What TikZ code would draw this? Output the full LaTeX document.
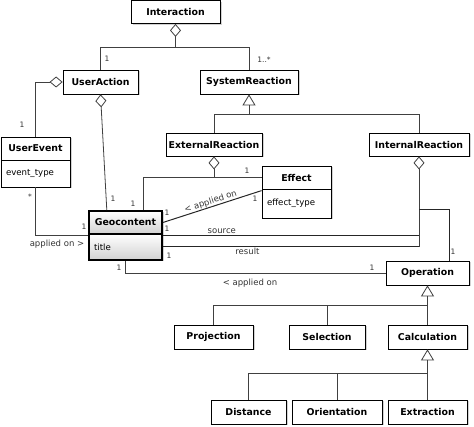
\documentclass[tikz,border=0pt]{standalone}
\usepackage{fontspec}
\setmainfont{DejaVu Sans}
\usetikzlibrary{arrows.meta,shadows,calc}
\begin{document}
\begin{tikzpicture}[x=1pt,y=-1pt,
  shad/.style={drop shadow={shadow xshift=1.5pt,shadow yshift=-1.5pt,fill=black!35}},
  cls/.style={draw=black, line width=0.8pt, fill=white, shad,
    font=\bfseries\fontsize{9.4}{10}\selectfont, inner sep=0pt, minimum height=23pt},
  attr/.style={draw=black, line width=0.8pt, fill=white, shad,
    font=\fontsize{8.6}{9}\selectfont, inner sep=0pt, inner xsep=5pt, align=left},
  geo/.style={line width=1.8pt, top color=white, bottom color=black!18},
  conn/.style={draw=black!75, line width=0.8pt},
  thk/.style={draw=black!85, line width=1pt},
  agg/.style={conn, -{Diamond[fill=white,length=13pt,width=11pt]}},
  gen/.style={conn, -{Triangle[fill=white,length=11pt,width=13pt]}},
  lbl/.style={font=\fontsize{8.5}{9}\selectfont, inner sep=1pt, text=black!80},
  mult/.style={font=\fontsize{7.5}{8}\selectfont, inner sep=0pt, text=black!80}]
\useasboundingbox (0,0) rectangle (474,427);

% classes
\node[cls, minimum width=89pt] (int) at (175.5,12) {Interaction};
\node[cls, minimum width=75pt, minimum height=24pt] (ua) at (100.5,82) {UserAction};
\node[cls, minimum width=98pt, minimum height=24pt] (sr) at (249,82) {SystemReaction};
\node[cls, minimum width=69pt] (ue) at (35.5,148.5) {UserEvent};
\node[attr, text width=59pt, minimum height=27pt] (ueb) at (35.5,173.5) {event\_type};
\node[cls, minimum width=96pt] (er) at (214,144.5) {ExternalReaction};
\node[cls, minimum width=100pt] (ir) at (419,144.5) {InternalReaction};
\node[cls, minimum width=69pt] (eff) at (296.5,177.5) {Effect};
\node[attr, text width=59pt, minimum height=29pt] (effb) at (296.5,203.5) {effect\_type};
\node[cls, geo, minimum width=73pt] (geo) at (125.5,222.5) {Geocontent};
\node[attr, geo, text width=63pt, minimum height=26pt] (geob) at (125.5,247) {title};
\node[cls, minimum width=83pt, minimum height=24pt] (op) at (427.5,273) {Operation};
\node[cls, minimum width=79pt, minimum height=24pt] (proj) at (213.5,337) {Projection};
\node[cls, minimum width=76pt, minimum height=24pt] (sel) at (327,337) {Selection};
\node[cls, minimum width=79pt, minimum height=24pt] (calc) at (427.5,337) {Calculation};
\node[cls, minimum width=75pt, minimum height=24pt] (dist) at (248.5,412) {Distance};
\node[cls, minimum width=90pt, minimum height=24pt] (ori) at (337,412) {Orientation};
\node[cls, minimum width=79pt, minimum height=24pt] (ext) at (427.5,412) {Extraction};

% Interaction aggregation
\path (int.south) ++(0,24) coordinate (j1);
\draw[conn] (ua.north) |- (j1) -| (sr.north);
\draw[agg] (j1) -- (int.south);
\node[mult] at (107,59) {1};
\node[mult] at (264,60) {1..*};

% UserAction aggregations
\draw[agg] (ue.north) |- (ua.west);
\node[mult] at (22,125) {1};
\draw[agg] ($(geo.north west)!0.25!(geo.north east)$) -- (ua.south);
\node[mult] at (113,199) {1};

% UserEvent -- Geocontent
\draw[conn] (ueb.south) |- ($(geob.north west)+(0,2)$);
\node[mult] at (30,197) {*};
\node[mult] at (84,227) {1};
\node[lbl] at (57,244) {applied on >};

% ExternalReaction aggregation
\coordinate (gA) at ($(geo.north west)!0.74!(geo.north east)$);
\draw[conn] (gA) |- (eff.west);
\draw[agg] (er.south |- eff.west) -- (er.south);
\node[mult] at (133,204) {1};
\node[mult] at (247,171) {1};

% applied on Effect
\draw[thk] (geo.east) -- node[sloped, above=-0.5pt, lbl, pos=0.5]{< applied on} ($(effb.north west)+(0,2)$);
\node[mult] at (167,213) {1};
\node[mult] at (255,199) {1};

% source / result
\draw[thk] ($(geob.north east)+(0,2)$) -- node[above, lbl, pos=0.23]{source} ($(ir.south |- geob.north east)+(0,2)$);
\draw[thk] (geob.east) -- node[below, lbl, pos=0.33]{result} (ir.south |- geob.east);
\draw[agg] (ir.south |- geob.east) -- (ir.south);
\node[mult] at (167,229) {1};
\node[mult] at (169,256) {1};
\path (ir.south) ++(0,53) coordinate (j4);
\draw[thk] (j4) -| ($(op.north west)!0.76!(op.north east)$);
\node[mult] at (453,252) {1};

% Geocontent -- Operation
\draw[conn] (geob.south) |- (op.west);
\node[mult] at (119,268) {1};
\node[mult] at (372,268) {1};
\node[lbl] at (250,283) {< applied on};

% generalizations
\path (sr.south) ++(0,20) coordinate (j3);
\draw[conn] (er.north) |- (j3) -| (ir.north);
\draw[gen] (j3) -- (sr.south);

\path (op.south) ++(0,20) coordinate (j5);
\draw[conn] (proj.north) |- (j5);
\draw[conn] (sel.north) |- (j5);
\draw[conn] (calc.north) -- (j5);
\draw[gen] (j5) -- (op.south);

\path (calc.south) ++(0,24) coordinate (j6);
\draw[conn] (dist.north) |- (j6);
\draw[conn] (ori.north) |- (j6);
\draw[conn] (ext.north) -- (j6);
\draw[gen] (j6) -- (calc.south);
\end{tikzpicture}
\end{document}
